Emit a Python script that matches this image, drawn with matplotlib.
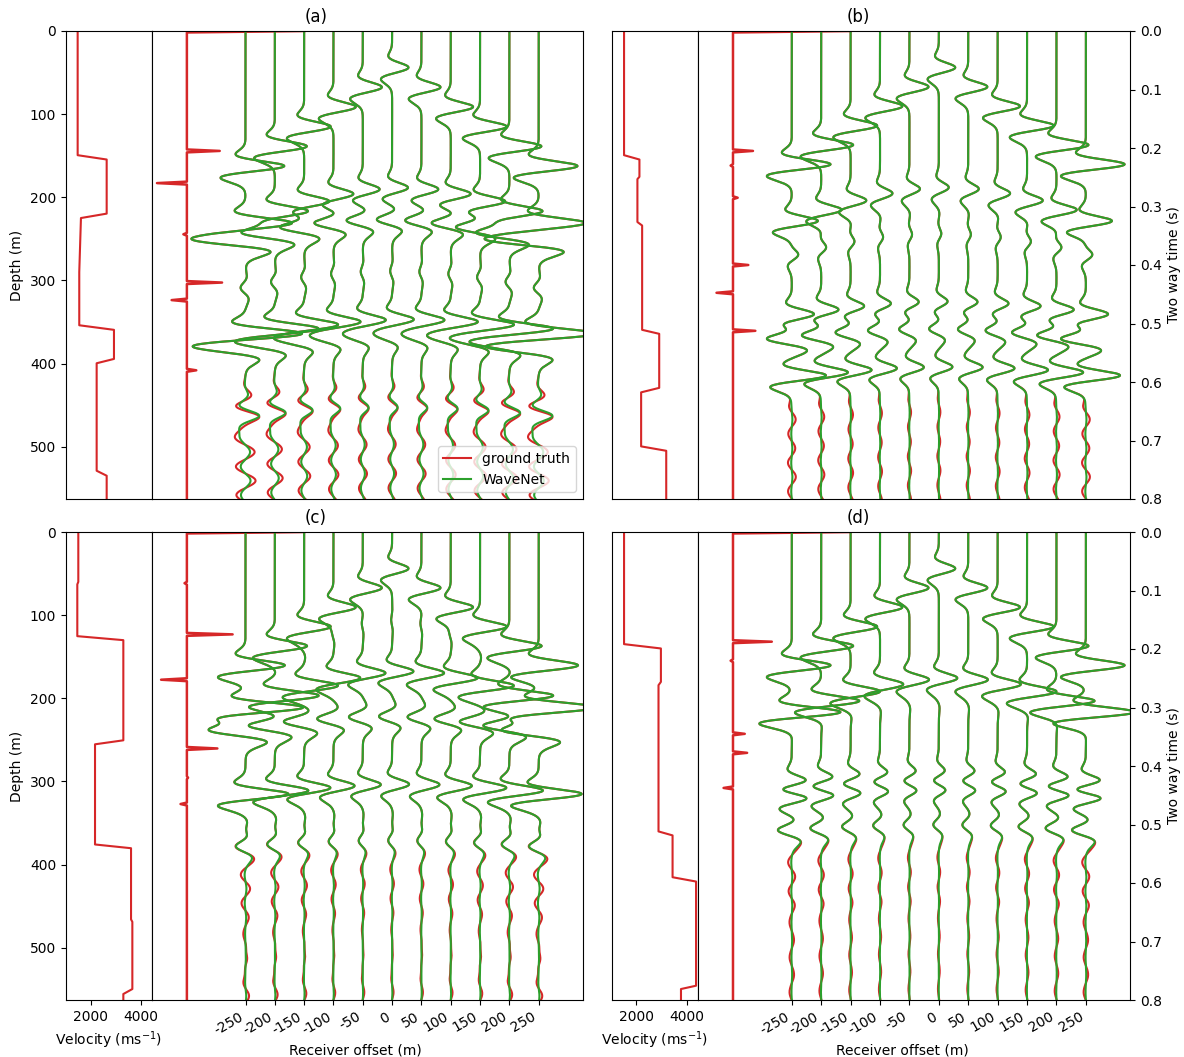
import matplotlib
matplotlib.use("Agg")
import matplotlib.pyplot as plt
import numpy as np
from matplotlib.ticker import FormatStrFormatter

# receiver offsets (m)
offsets = [-250, -200, -150, -100, -50, 0, 50, 100, 150, 200, 250]

# velocity profiles: depth breakpoints (m) and velocity (m/s)
a_depth = [0, 149.4, 154.6, 219.7, 225.0, 290.0, 354.0, 359.5, 394.5, 399.7, 529.0, 535.0, 563.0]
a_vel = [1483, 1483, 2636, 2636, 1614, 1547, 1547, 2926, 2926, 2238, 2238, 2636, 2636]
b_depth = [0, 149.4, 154.6, 175.4, 178.2, 229.8, 234.0, 359.5, 364.3, 429.3, 434.7, 499.7, 505.0, 563.0]
b_vel = [1509, 1509, 2118, 2118, 2038, 2038, 2225, 2225, 2901, 2901, 2185, 2185, 3179, 3179]
c_depth = [0, 60.0, 63.0, 125.3, 130.1, 250.6, 255.4, 375.9, 380.4, 466.0, 469.0, 549.8, 555.8, 563.0]
c_vel = [1509, 1509, 1469, 1469, 3298, 3298, 2173, 2173, 3604, 3604, 3656, 3656, 3298, 3298]
d_depth = [0, 134.9, 140.1, 180.3, 184.3, 360.2, 365.0, 415.3, 420.5, 545.8, 549.8, 563.0]
d_vel = [1509, 1509, 2968, 2968, 2873, 2873, 3430, 3430, 4360, 4360, 3763, 3763]

# reflectivity spikes: two way time (s) and reflection coefficient
a_refl_t = [0.0, 0.2056, 0.260, 0.348, 0.4305, 0.459, 0.579]
a_refl_r = [1.0, 0.28, -0.255, -0.03, 0.30, -0.13, 0.08]
b_refl_t = [0.0, 0.205, 0.230, 0.284, 0.400, 0.447, 0.512]
b_refl_r = [1.0, 0.17, -0.02, 0.04, 0.13, -0.14, 0.19]
c_refl_t = [0.0, 0.0877, 0.176, 0.253, 0.369, 0.420, 0.465]
c_refl_r = [1.0, -0.02, 0.39, -0.22, 0.26, 0.01, -0.054]
d_refl_t = [0.0, 0.1875, 0.219, 0.346, 0.378, 0.438]
d_refl_r = [1.0, 0.33, -0.02, 0.10, 0.12, -0.08]

# late reverberations (zero offset time, amplitude) and how much of them WaveNet keeps
a_coda_t = [0.545, 0.57, 0.595, 0.62, 0.645, 0.67, 0.695, 0.72, 0.745, 0.77, 0.795]
a_coda_r = [0.03, -0.03, 0.03, -0.03, 0.025, -0.03, 0.03, -0.025, 0.025, -0.025, 0.02]
b_coda_t = [0.565, 0.59, 0.615, 0.64, 0.665, 0.69, 0.715, 0.74, 0.765]
b_coda_r = [-0.012, 0.012, -0.01, 0.01, -0.012, 0.012, -0.01, 0.012, -0.01]
c_coda_t = [0.49, 0.515, 0.54, 0.565, 0.59, 0.62, 0.66, 0.70, 0.725, 0.75]
c_coda_r = [0.014, -0.016, 0.014, -0.012, 0.01, -0.008, 0.008, -0.008, 0.012, -0.008]
d_coda_t = [0.47, 0.495, 0.52, 0.545, 0.57, 0.60, 0.63, 0.66, 0.69, 0.72, 0.75]
d_coda_r = [0.012, -0.012, 0.01, -0.01, 0.01, -0.008, 0.008, -0.008, 0.008, -0.008, 0.008]
coda_keep = [0.5, 0.15, 0.2, 0.15]

titles = ["(a)", "(b)", "(c)", "(d)"]
red = "#d62728"
green = "#2ca02c"

W, H = 1184, 1057
fig = plt.figure(figsize=(W / 100, H / 100), dpi=100)


def box(x0, x1, y0, y1):
    return [x0 / W, 1 - y1 / H, (x1 - x0) / W, (y1 - y0) / H]


t = np.arange(0, 0.8005, 0.001)
td = 0.064       # wavelet peak delay
f0 = 19.5


def wavelet(tau):
    u = np.pi * f0 * tau
    return (1 - 2 * u**2) * np.exp(-u**2) - 0.3 * u * np.exp(-u**2) / 0.4289


def rms_curve(depth, vel):
    z = np.arange(0, depth[-1], 0.25)
    v = np.interp(z, depth, vel)
    dtz = 2 * 0.25 / v
    tz = np.cumsum(dtz)
    vr = np.sqrt(np.cumsum(v**2 * dtz) / tz)
    return tz, vr


def traces(depth, vel, refl_t, refl_r, coda_t, coda_r, keep):
    tz, vr = rms_curve(depth, vel)
    gain = (t / 0.3) ** 0.3
    out_gt, out_wn = [], []
    for x in offsets:
        s2 = (x / 250) ** 2
        main = 43 * (1 + 0.6 * s2) * wavelet(t - td - abs(x) / vel[0])
        for t0, r in zip(refl_t[1:], refl_r[1:]):
            v = np.interp(t0, tz, vr)
            main += 96 * r * (1 + 1.5 * s2) * wavelet(t - td - np.sqrt(t0**2 + (x / v)**2))
        coda = np.zeros_like(t)
        v = np.interp(refl_t[-1], tz, vr)
        for t0, r in zip(coda_t, coda_r):
            coda += 96 * r * (1 + 1.5 * s2) * wavelet(t - td - np.sqrt(t0**2 + (x / v)**2))
        out_gt.append(x + gain * (main + coda))
        out_wn.append(x + gain * (main + keep * coda))
    return out_gt, out_wn


panels = [
    (a_depth, a_vel, a_refl_t, a_refl_r, a_coda_t, a_coda_r),
    (b_depth, b_vel, b_refl_t, b_refl_r, b_coda_t, b_coda_r),
    (c_depth, c_vel, c_refl_t, c_refl_r, c_coda_t, c_coda_r),
    (d_depth, d_vel, d_refl_t, d_refl_r, d_coda_t, d_coda_r),
]
xs = [(66, 151.7, 582.7), (611.7, 697.7, 1130), (66, 151.7, 582.7), (611.7, 697.7, 1130)]
ys = [(31, 499), (31, 499), (532, 1000), (532, 1000)]
title_pos = [(316, 17), (858, 17), (316, 518), (858, 518)]

dt_r = 0.0025
tr = np.arange(0, 0.8 + dt_r / 2, dt_r)

for i, (depth, vel, rt, rr, ct, cr) in enumerate(panels):
    x0, x1, x2 = xs[i]
    y0, y1 = ys[i]
    axv = fig.add_axes(box(x0, x1, y0, y1))
    axg = fig.add_axes(box(x1, x2, y0, y1))

    # velocity profile
    axv.plot(vel, depth, color=red, lw=1.5)
    axv.set_xlim(1020, 4425)
    axv.set_ylim(563, 0)

    # reflectivity series
    r = np.zeros_like(tr)
    for t0, val in zip(rt, rr):
        r[int(round(t0 / dt_r))] = val
    axg.plot(-350 + 200 * r, tr, color=red, lw=1.8)

    gt, wn = traces(depth, vel, rt, rr, ct, cr, coda_keep[i])
    for k in range(len(offsets)):
        axg.plot(gt[k], t, color=red, lw=1.5, label="ground truth" if k == 0 else None)
    for k in range(len(offsets)):
        axg.plot(wn[k], t, color=green, lw=1.5, label="WaveNet" if k == 0 else None)
    axg.set_xlim(-410, 325)
    axg.set_ylim(0.8, 0)

    bottom = i >= 2
    if bottom:
        axv.set_xticks([2000, 4000])
        axv.set_xlabel("Velocity (ms$^{-1}$)")
        axg.set_xticks(offsets)
        axg.set_xticklabels([str(o) for o in offsets], rotation=30, ha="right")
        axg.set_xlabel("Receiver offset (m)")
        axg.xaxis.set_label_coords(0.473, -0.094)
    else:
        axv.set_xticks([])
        axg.set_xticks([])

    if i % 2 == 0:
        axv.set_yticks([0, 100, 200, 300, 400, 500])
        axv.set_ylabel("Depth (m)")
        axg.set_yticks([])
    else:
        axv.set_yticks([])
        axg.yaxis.tick_right()
        axg.yaxis.set_label_position("right")
        axg.set_yticks(np.arange(0, 0.81, 0.1))
        axg.yaxis.set_major_formatter(FormatStrFormatter("%.1f"))
        axg.set_ylabel("Two way time (s)")

    if i == 0:
        axg.legend(loc="lower right")

    fig.text(title_pos[i][0] / W, 1 - title_pos[i][1] / H, titles[i],
             ha="center", va="center", fontsize=12)

fig.savefig("out.png", dpi=100)
